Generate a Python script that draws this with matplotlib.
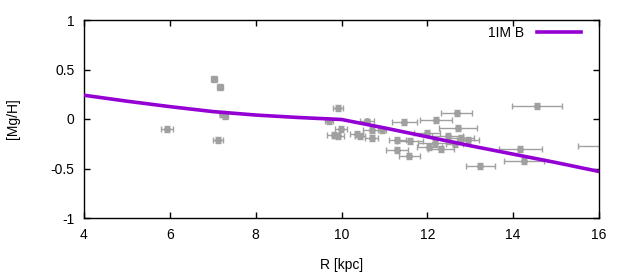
import numpy as np
import matplotlib.pyplot as plt

plt.rcParams['font.family'] = ['Liberation Sans', 'DejaVu Sans']

# gradient model
modelo_R = [4, 5, 6, 7, 8, 9, 10, 11, 12, 13, 14, 15, 16]
modelo_MgH = [0.24, 0.18, 0.125, 0.075, 0.04, 0.015, -0.005, -0.09, -0.18, -0.27, -0.355, -0.44, -0.53]

# observed points: R, [Mg/H], error in R
obs_R = [5.94, 7.03, 7.18, 7.22, 7.29, 7.13, 9.92, 9.71, 10.60, 11.46, 9.98, 10.72, 10.94,
         9.82, 9.93, 10.35, 10.43, 10.70, 11.30, 11.60, 11.30, 11.58, 12.21, 12.68, 12.72,
         12.00, 12.47, 12.78, 12.95, 12.19, 12.64, 12.05, 12.31, 13.23, 14.56, 14.17, 14.26, 16.7]
obs_MgH = [-0.10, 0.40, 0.32, 0.05, 0.03, -0.215, 0.115, -0.025, -0.025, -0.03, -0.10, -0.11, -0.11,
           -0.16, -0.17, -0.15, -0.17, -0.195, -0.21, -0.22, -0.31, -0.37, -0.01, 0.064, -0.09,
           -0.14, -0.17, -0.195, -0.21, -0.24, -0.255, -0.286, -0.30, -0.475, 0.136, -0.30, -0.42, -0.27]
obs_errR = [0.14, 0.08, 0.07, 0.06, 0.06, 0.12, 0.12, 0.10, 0.16, 0.29, 0.14, 0.21, 0.10,
            0.15, 0.12, 0.15, 0.12, 0.16, 0.20, 0.30, 0.26, 0.24, 0.37, 0.35, 0.44,
            0.30, 0.35, 0.30, 0.25, 0.40, 0.20, 0.30, 0.30, 0.34, 0.58, 0.50, 0.47, 1.20]
obs_errMgH = [0.03] * len(obs_R)

fig = plt.figure(figsize=(6.3, 2.8), dpi=100)
ax = fig.add_axes([84 / 630, 1 - 218 / 280, 515 / 630, 198 / 280])

ax.errorbar(obs_R, obs_MgH, xerr=obs_errR, yerr=obs_errMgH, fmt='o', color='#a0a0a0',
            markersize=4.0, elinewidth=1.0, capsize=2.2, capthick=1.0, zorder=2)
ax.plot(modelo_R, modelo_MgH, color='#9400d3', linewidth=2.6, label='1IM B', zorder=3)

ax.set_xlim(4, 16)
ax.set_ylim(-1, 1)
ax.set_xticks(np.arange(4, 17, 2))
ax.set_yticks([-1, -0.5, 0, 0.5, 1])
ax.set_yticklabels(['-1', '-0.5', '0', '0.5', '1'])
ax.tick_params(direction='in', top=True, right=True, length=4, width=1, labelsize=10, pad=7)
for s in ax.spines.values():
    s.set_linewidth(1)

ax.set_xlabel('R [kpc]', fontsize=10, labelpad=12)
ax.set_ylabel('[Mg/H]', fontsize=10, labelpad=22)

ax.legend(loc='center right', bbox_to_anchor=(0.966, 0.934), frameon=False, markerfirst=False,
          fontsize=10, handlelength=3.2, borderaxespad=0, borderpad=0, handletextpad=0.9)

fig.savefig('out.png', dpi=100)
